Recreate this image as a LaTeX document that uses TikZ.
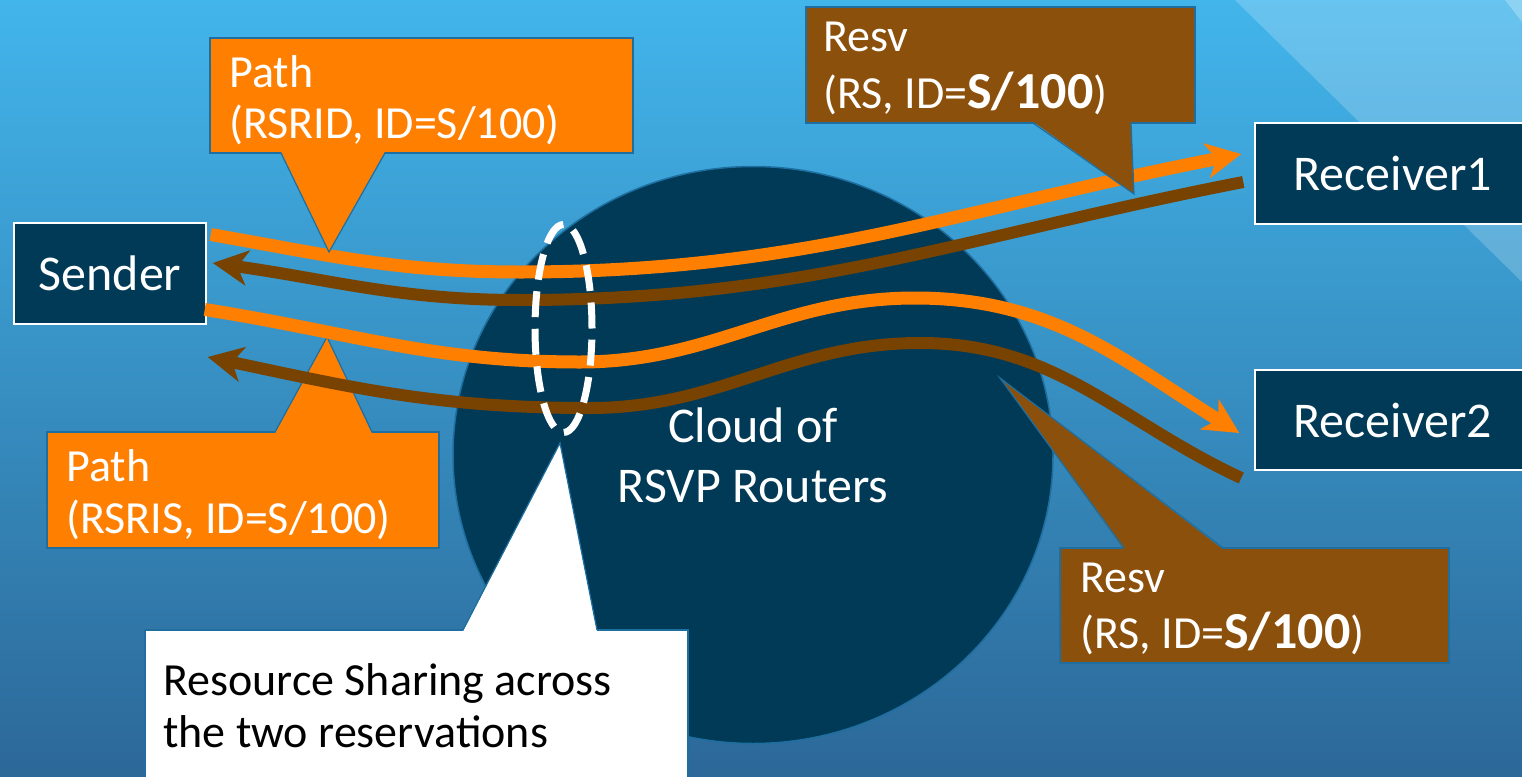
\documentclass[tikz,border=0pt]{standalone}
\usepackage{fontspec}
\setmainfont{Carlito}
\usetikzlibrary{arrows.meta,shapes.geometric}

\definecolor{navy}{HTML}{003A57}
\definecolor{pathorange}{HTML}{FF7F00}
\definecolor{resvbrown}{HTML}{8B500C}
\definecolor{resvline}{HTML}{784200}
\definecolor{edgeblue}{HTML}{1E6FA0}
\definecolor{skytop}{HTML}{42B5EB}
\definecolor{skybottom}{HTML}{2C6898}

\tikzset{
    host/.style = {
        fill = navy,
        draw = white,
        line width = 1.5pt,
        text = white,
        inner sep = 0pt,
        font = \fontsize{50}{60}\selectfont,
        },
    callout box/.style = {
        draw = edgeblue,
        line width = 1.2pt,
        inner sep = 0pt,
        outer sep = 0pt,
        },
    path msg/.style = {
        callout box,
        fill = pathorange,
        },
    resv msg/.style = {
        callout box,
        fill = resvbrown,
        },
    note msg/.style = {
        callout box,
        fill = white,
        },
    pointer edge/.style = {
        draw = edgeblue,
        line width = 1.2pt,
        },
    msg text/.style = {
        anchor = base west,
        inner sep = 0pt,
        text = white,
        font = \fontsize{46}{52}\selectfont,
        },
    path flow/.style = {
        draw = pathorange,
        line width = 13pt,
        },
    resv flow/.style = {
        draw = resvline,
        line width = 12pt,
        },
    flow tip/.style = {
        -{Stealth[length=35pt, width=35pt, inset=10pt]},
        },
}

\begin{document}
\begin{tikzpicture}[x=1pt, y=-1pt]
    \clip (0,0) rectangle (1522,776);
    \shade[top color=skytop, bottom color=skybottom] (0,0) rectangle (1522,776);
    \fill[white, opacity=0.2] (1235,0) -- (1522,0) -- (1522,282) -- cycle;
    \fill[white, opacity=0.25] (1505,0) -- (1522,0) -- (1522,22) -- cycle;

    % the routers
    \node[ellipse, fill=navy, draw=edgeblue, line width=1.5pt, minimum width=600pt, minimum height=577pt,
          inner sep=0pt, text=white, align=center, font=\fontsize{50}{60}\selectfont] (cloud) at (753,455) {Cloud of\\RSVP Routers};

    \node[host, minimum width=192pt, minimum height=101pt] (sender) at (110,273.5) {Sender};
    \node[host, minimum width=275pt, minimum height=101pt] (recvA) at (1392.5,173.5) {Receiver1};
    \node[host, minimum width=275pt, minimum height=100pt] (recvB) at (1392.5,420) {Receiver2};

    % lower Path message, under the Resv flow
    \node[path msg, minimum width=392pt, minimum height=116pt] (pathB) at (243,490) {};
    \coordinate (pathBTip) at (327,337);
    \fill[pathorange] ([xshift=228pt, yshift=-1.5pt] pathB.north west) -- (pathBTip) -- ([xshift=325pt, yshift=-1.5pt] pathB.north west) -- cycle;
    \draw[pointer edge] ([xshift=228pt] pathB.north west) -- (pathBTip) -- ([xshift=325pt] pathB.north west);
    \node[msg text] (pathBHead) at (66,481) {Path};
    \node[msg text] (pathBBody) at (66,533) {(RSRIS, ID=S/100)};

    % flows
    \draw[path flow, flow tip] ([xshift=4pt, yshift=39pt] sender.east) to[out=-10, in=180] (520,272)
        to[out=0, in=191] ([xshift=-13pt, yshift=19.5pt] recvA.west);
    \draw[resv flow, flow tip] ([xshift=-11pt, yshift=-8.5pt] recvA.west) to[out=191, in=0] (520,300)
        to[out=180, in=-8] ([xshift=6pt, yshift=10.5pt] sender.east);
    \draw[path flow, flow tip] ([xshift=-2pt, yshift=-36pt] sender.east) to[out=-9, in=180] (580,362)
        to[out=0, in=180] (915,298) to[out=0, in=148] ([xshift=-15pt, yshift=-13pt] recvB.west);
    \draw[resv flow, flow tip] ([xshift=-13pt, yshift=-58pt] recvB.west) to[out=155, in=0] (920,343)
        to[out=180, in=0] (590,408) to[out=180, in=-12] ([xshift=1pt, yshift=-83.5pt] sender.east);

    \node[ellipse, draw=white, line width=7pt, dash pattern=on 26pt off 11.6pt, minimum width=57pt,
          minimum height=208pt, inner sep=0pt] (shared) at (563.5,328.5) {};

    % upper Path message
    \node[path msg, minimum width=423pt, minimum height=115pt] (pathA) at (421.5,95.5) {};
    \coordinate (pathATip) at (329,252);
    \fill[pathorange] ([xshift=71pt, yshift=1.5pt] pathA.south west) -- (pathATip) -- ([xshift=175pt, yshift=1.5pt] pathA.south west) -- cycle;
    \draw[pointer edge] ([xshift=71pt] pathA.south west) -- (pathATip) -- ([xshift=175pt] pathA.south west);
    \node[msg text] (pathAHead) at (229,87) {Path};
    \node[msg text] (pathABody) at (229,138) {(RSRID, ID=S/100)};

    % Resv messages
    \node[resv msg, minimum width=389pt, minimum height=116pt] (resvA) at (1000.5,65) {};
    \coordinate (resvATip) at (1134,194);
    \fill[resvbrown] ([xshift=227pt, yshift=1.5pt] resvA.south west) -- (resvATip) -- ([xshift=325pt, yshift=1.5pt] resvA.south west) -- cycle;
    \draw[pointer edge] ([xshift=227pt] resvA.south west) -- (resvATip) -- ([xshift=325pt] resvA.south west);
    \node[msg text] (resvAHead) at (823,52) {Resv};
    \node[msg text] (resvABody) at (823,108) {(RS, ID={\fontsize{52}{52}\selectfont\bfseries S/100})};

    \node[resv msg, minimum width=389pt, minimum height=115pt] (resvB) at (1254.5,605.5) {};
    \coordinate (resvBTip) at (1000,378);
    \fill[resvbrown] ([xshift=64pt, yshift=-1.5pt] resvB.north west) -- (resvBTip) -- ([xshift=163pt, yshift=-1.5pt] resvB.north west) -- cycle;
    \draw[pointer edge] ([xshift=64pt] resvB.north west) -- (resvBTip) -- ([xshift=163pt] resvB.north west);
    \node[msg text] (resvBHead) at (1080,592) {Resv};
    \node[msg text] (resvBBody) at (1080,648) {(RS, ID={\fontsize{52}{52}\selectfont\bfseries S/100})};

    % note on the shared part
    \node[note msg, minimum width=543pt, minimum height=160pt] (share) at (416.5,710) {};
    \coordinate (shareTip) at ([xshift=-3.5pt, yshift=-7pt] shared.south);
    \fill[white] ([xshift=318pt, yshift=-1.5pt] share.north west) -- (shareTip) -- ([xshift=452pt, yshift=-1.5pt] share.north west) -- cycle;
    \draw[pointer edge] ([xshift=318pt] share.north west) -- (shareTip) -- ([xshift=452pt] share.north west);
    \node[msg text, text=black] (shareLineA) at (163,695) {Resource Sharing across};
    \node[msg text, text=black] (shareLineB) at (163,747) {the two reservations};
\end{tikzpicture}
\end{document}
